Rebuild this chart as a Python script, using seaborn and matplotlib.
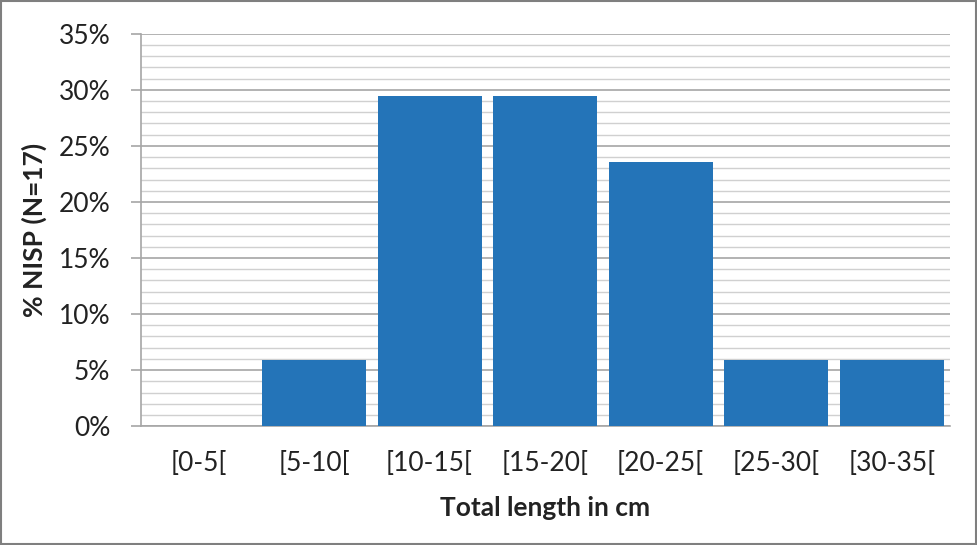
import matplotlib
matplotlib.use("Agg")
import numpy as np
import pandas as pd
import matplotlib.pyplot as plt
import seaborn as sns
from matplotlib.ticker import MultipleLocator, FuncFormatter

# length classes and % NISP (N=17)
classes = ['[0-5[', '[5-10[', '[10-15[', '[15-20[', '[20-25[', '[25-30[', '[30-35[']
counts = [0, 1, 5, 5, 4, 1, 1]
pct = [c / 17 * 100 for c in counts]

df = pd.DataFrame({'cls': classes, 'pct': pct})

sns.set_style("white")
plt.rcParams['font.family'] = ['Lato', 'DejaVu Sans']
txt = '#222222'

fig = plt.figure(figsize=(9.77, 5.45), dpi=100)
ax = fig.add_axes([0.144, 0.218, 0.828, 0.72])

sns.barplot(data=df, x='cls', y='pct', color='#2474B8', saturation=1,
            width=0.9, ax=ax, zorder=3, linewidth=0)

ax.set_ylim(0, 35)
ax.set_xlim(-0.5, 6.5)
ax.yaxis.set_major_locator(MultipleLocator(5))
ax.yaxis.set_minor_locator(MultipleLocator(1))
ax.yaxis.set_major_formatter(FuncFormatter(lambda v, p: f'{v:.0f}%'))
ax.grid(axis='y', which='major', color='#a6a6a6', lw=1.2, zorder=0)
ax.grid(axis='y', which='minor', color='#d0d0d0', lw=1.0, zorder=0)
ax.tick_params(axis='y', which='major', length=7, color='#a6a6a6', width=1.2,
               labelsize=19, pad=15, left=True, labelcolor=txt)
ax.tick_params(axis='y', which='minor', length=0)
ax.tick_params(axis='x', length=0, labelsize=19, pad=18, labelcolor=txt)

for s in ['top', 'right']:
    ax.spines[s].set_visible(False)
for s in ['left', 'bottom']:
    ax.spines[s].set_color('#a6a6a6')
    ax.spines[s].set_linewidth(1.2)

ax.set_xlabel('Total length in cm', fontsize=19, fontweight='bold', labelpad=14, color=txt)
ax.set_ylabel('% NISP (N=17)', fontsize=19, fontweight='bold', labelpad=8, color=txt)

# outer frame
fig.patches.append(plt.Rectangle((0.001, 0.001), 0.998, 0.997, transform=fig.transFigure,
                                 fill=False, edgecolor='#7f7f7f', lw=1.5))

fig.savefig('out.png', dpi=100)
